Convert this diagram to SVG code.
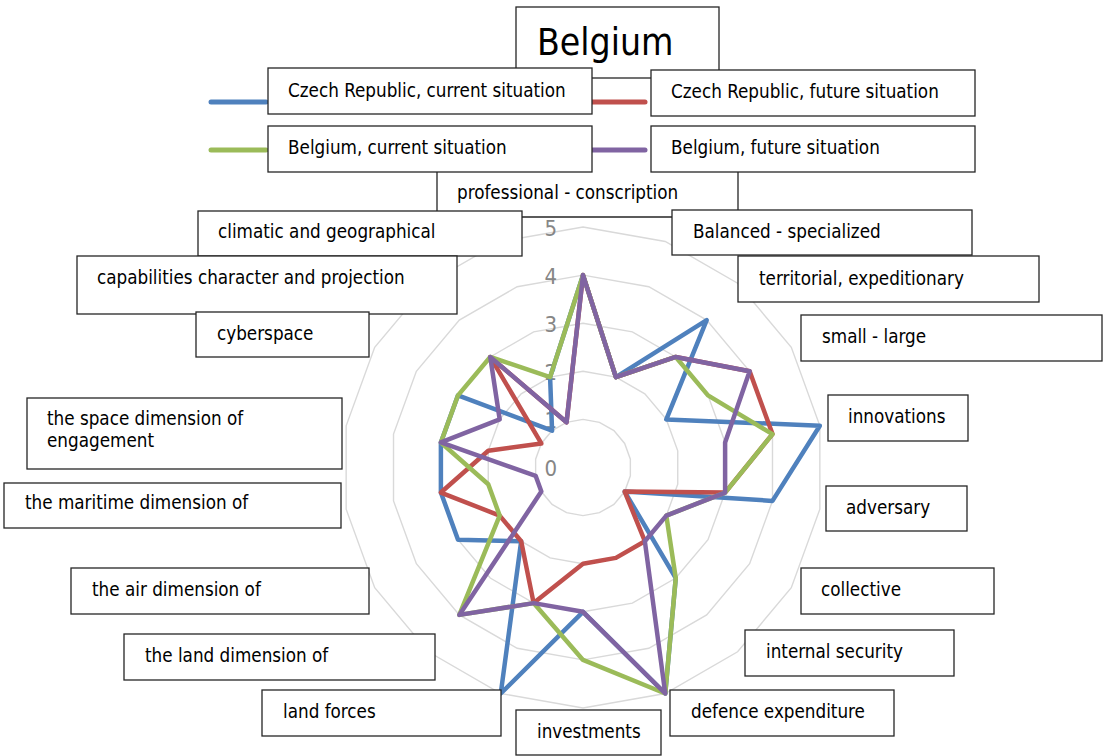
<svg xmlns="http://www.w3.org/2000/svg" width="1105" height="756" viewBox="0 0 1105 756">
  <style>
    .ring { fill: none; stroke: #d9d9d9; stroke-width: 1.4; }
    .tick { font-family: "DejaVu Sans Condensed", "DejaVu Sans", sans-serif; font-stretch: condensed; font-size: 22px; fill: #868686; text-anchor: end; }
    .series { fill: none; stroke-width: 4.5; stroke-linejoin: round; }
    .blue { stroke: #4f81bd; }
    .red { stroke: #c0504d; }
    .green { stroke: #9bbb59; }
    .purple { stroke: #8064a2; }
    .box { fill: #ffffff; stroke: #262626; stroke-width: 1.3; }
    .edge { fill: none; stroke: #262626; stroke-width: 1.3; }
    .lbl { font-family: "DejaVu Sans Condensed", "DejaVu Sans", sans-serif; font-stretch: condensed; font-size: 18.7px; fill: #000000; }
    .title { font-family: "DejaVu Sans Condensed", "DejaVu Sans", sans-serif; font-stretch: condensed; font-size: 37px; fill: #000000; }
    .key { fill: none; stroke-width: 5; stroke-linecap: round; }
  </style>

  <!-- radar grid: 18 axes, rings at values 1..5 -->
  <g id="grid" transform="translate(583,467.5)">
    <polygon class="ring" points="0,-48.1 16.45,-45.2 30.92,-36.85 41.66,-24.05 47.37,-8.35 47.37,8.35 41.66,24.05 30.92,36.85 16.45,45.2 0,48.1 -16.45,45.2 -30.92,36.85 -41.66,24.05 -47.37,8.35 -47.37,-8.35 -41.66,-24.05 -30.92,-36.85 -16.45,-45.2"/>
    <polygon class="ring" points="0,-96.2 32.9,-90.4 61.84,-73.7 83.32,-48.1 94.74,-16.7 94.74,16.7 83.32,48.1 61.84,73.7 32.9,90.4 0,96.2 -32.9,90.4 -61.84,73.7 -83.32,48.1 -94.74,16.7 -94.74,-16.7 -83.32,-48.1 -61.84,-73.7 -32.9,-90.4"/>
    <polygon class="ring" points="0,-144.3 49.35,-135.6 92.76,-110.55 124.98,-72.15 142.11,-25.05 142.11,25.05 124.98,72.15 92.76,110.55 49.35,135.6 0,144.3 -49.35,135.6 -92.76,110.55 -124.98,72.15 -142.11,25.05 -142.11,-25.05 -124.98,-72.15 -92.76,-110.55 -49.35,-135.6"/>
    <polygon class="ring" points="0,-192.4 65.8,-180.8 123.68,-147.4 166.64,-96.2 189.48,-33.4 189.48,33.4 166.64,96.2 123.68,147.4 65.8,180.8 0,192.4 -65.8,180.8 -123.68,147.4 -166.64,96.2 -189.48,33.4 -189.48,-33.4 -166.64,-96.2 -123.68,-147.4 -65.8,-180.8"/>
    <polygon class="ring" points="0,-240.5 82.25,-226 154.6,-184.25 208.3,-120.25 236.85,-41.75 236.85,41.75 208.3,120.25 154.6,184.25 82.25,226 0,240.5 -82.25,226 -154.6,184.25 -208.3,120.25 -236.85,41.75 -236.85,-41.75 -208.3,-120.25 -154.6,-184.25 -82.25,-226"/>
  </g>

  <!-- value axis labels -->
  <g id="ticks">
    <text class="tick" x="557" y="476">0</text>
    <text class="tick" x="557" y="428">1</text>
    <text class="tick" x="557" y="380">2</text>
    <text class="tick" x="557" y="332">3</text>
    <text class="tick" x="557" y="284">4</text>
    <text class="tick" x="557" y="236">5</text>
  </g>

  <!-- data series -->
  <g id="connectors" transform="translate(583,467.5)">
    <polygon id="czech-current" class="series blue" points="0,-192.4 32.9,-90.4 123.68,-147.4 83.32,-48.1 236.85,-41.75 189.48,33.4 41.66,24.05 92.76,110.55 82.25,226 0,144.3 -82.25,226 -61.84,73.7 -124.98,72.15 -142.11,25.05 -142.11,-25.05 -124.98,-72.15 -30.92,-36.85 -32.9,-90.4"/>
    <polygon id="czech-future" class="series red" points="0,-192.4 32.9,-90.4 92.76,-110.55 166.64,-96.2 189.48,-33.4 142.11,25.05 41.66,24.05 61.84,73.7 32.9,90.4 0,96.2 -49.35,135.6 -61.84,73.7 -83.32,48.1 -142.11,25.05 -94.74,-16.7 -41.66,-24.05 -92.76,-110.55 -16.45,-45.2"/>
    <polygon id="belgium-current" class="series green" points="0,-192.4 32.9,-90.4 92.76,-110.55 124.98,-72.15 189.48,-33.4 142.11,25.05 83.32,48.1 92.76,110.55 82.25,226 0,192.4 -49.35,135.6 -123.68,147.4 -83.32,48.1 -94.74,16.7 -142.11,-25.05 -124.98,-72.15 -92.76,-110.55 -32.9,-90.4"/>
    <polygon id="belgium-future" class="series purple" points="0,-192.4 32.9,-90.4 92.76,-110.55 166.64,-96.2 142.11,-25.05 142.11,25.05 83.32,48.1 61.84,73.7 82.25,226 0,144.3 -49.35,135.6 -123.68,147.4 -41.66,24.05 -47.37,8.35 -142.11,-25.05 -83.32,-48.1 -92.76,-110.55 -16.45,-45.2"/>
  </g>

  <!-- category labels -->
  <g id="axis-professional">
    <rect x="437" y="172" width="301" height="45" fill="#ffffff"/>
    <path class="edge" d="M437,172 V217 H738 V172"/>
    <text class="lbl" x="457" y="199">professional - conscription</text>
  </g>
  <g id="axis-climatic">
    <rect class="box" x="198" y="211" width="324" height="45"/>
    <text class="lbl" x="218" y="238">climatic and geographical</text>
  </g>
  <g id="axis-balanced">
    <rect class="box" x="672" y="210" width="300" height="45"/>
    <text class="lbl" x="693" y="238">Balanced - specialized</text>
  </g>
  <g id="axis-capabilities">
    <rect class="box" x="77" y="256" width="380" height="58"/>
    <text class="lbl" x="97" y="284">capabilities character and projection</text>
  </g>
  <g id="axis-territorial">
    <rect class="box" x="738" y="256" width="301" height="46"/>
    <text class="lbl" x="759" y="285">territorial, expeditionary</text>
  </g>
  <g id="axis-cyberspace">
    <rect class="box" x="196" y="312" width="173" height="45"/>
    <text class="lbl" x="217" y="340">cyberspace</text>
  </g>
  <g id="axis-small-large">
    <rect class="box" x="801" y="315" width="301" height="46"/>
    <text class="lbl" x="822" y="343">small - large</text>
  </g>
  <g id="axis-space">
    <rect class="box" x="27" y="398" width="315" height="71"/>
    <text class="lbl" x="47" y="425">the space dimension of</text>
    <text class="lbl" x="47" y="447">engagement</text>
  </g>
  <g id="axis-innovations">
    <rect class="box" x="828" y="395" width="140" height="46"/>
    <text class="lbl" x="848" y="423">innovations</text>
  </g>
  <g id="axis-maritime">
    <rect class="box" x="4" y="483" width="337" height="45"/>
    <text class="lbl" x="25" y="509">the maritime dimension of</text>
  </g>
  <g id="axis-adversary">
    <rect class="box" x="826" y="486" width="141" height="45"/>
    <text class="lbl" x="846" y="514">adversary</text>
  </g>
  <g id="axis-air">
    <rect class="box" x="71" y="568" width="298" height="46"/>
    <text class="lbl" x="92" y="596">the air dimension of</text>
  </g>
  <g id="axis-collective">
    <rect class="box" x="801" y="568" width="193" height="46"/>
    <text class="lbl" x="821" y="596">collective</text>
  </g>
  <g id="axis-internal-security">
    <rect class="box" x="745" y="630" width="209" height="46"/>
    <text class="lbl" x="766" y="658">internal security</text>
  </g>
  <g id="axis-land-dimension">
    <rect class="box" x="124" y="634" width="311" height="46"/>
    <text class="lbl" x="145" y="662">the land dimension of</text>
  </g>
  <g id="axis-land-forces">
    <rect class="box" x="262" y="690" width="239" height="46"/>
    <text class="lbl" x="283" y="718">land forces</text>
  </g>
  <g id="axis-defence-expenditure">
    <rect class="box" x="670" y="690" width="224" height="46"/>
    <text class="lbl" x="691" y="718">defence expenditure</text>
  </g>
  <g id="axis-investments">
    <rect class="box" x="516" y="710" width="145" height="45"/>
    <text class="lbl" x="537" y="738">investments</text>
  </g>

  <!-- title -->
  <g id="title">
    <rect class="box" x="516" y="7" width="203" height="71"/>
    <text class="title" x="537" y="55">Belgium</text>
  </g>

  <!-- legend -->
  <g id="legend">
    <line class="key blue" x1="211" y1="102" x2="266" y2="102"/>
    <line class="key red" x1="590" y1="102" x2="645" y2="102"/>
    <line class="key green" x1="211" y1="150" x2="266" y2="150"/>
    <line class="key purple" x1="590" y1="150" x2="645" y2="150"/>
    <g id="legend-czech-current">
      <rect class="box" x="268" y="68" width="324" height="46"/>
      <text class="lbl" x="288" y="97">Czech Republic, current situation</text>
    </g>
    <g id="legend-czech-future">
      <rect class="box" x="651" y="70" width="324" height="46"/>
      <text class="lbl" x="671" y="98">Czech Republic, future situation</text>
    </g>
    <g id="legend-belgium-current">
      <rect class="box" x="268" y="126" width="324" height="46"/>
      <text class="lbl" x="288" y="154">Belgium, current situation</text>
    </g>
    <g id="legend-belgium-future">
      <rect class="box" x="651" y="126" width="324" height="46"/>
      <text class="lbl" x="671" y="154">Belgium, future situation</text>
    </g>
  </g>
</svg>
